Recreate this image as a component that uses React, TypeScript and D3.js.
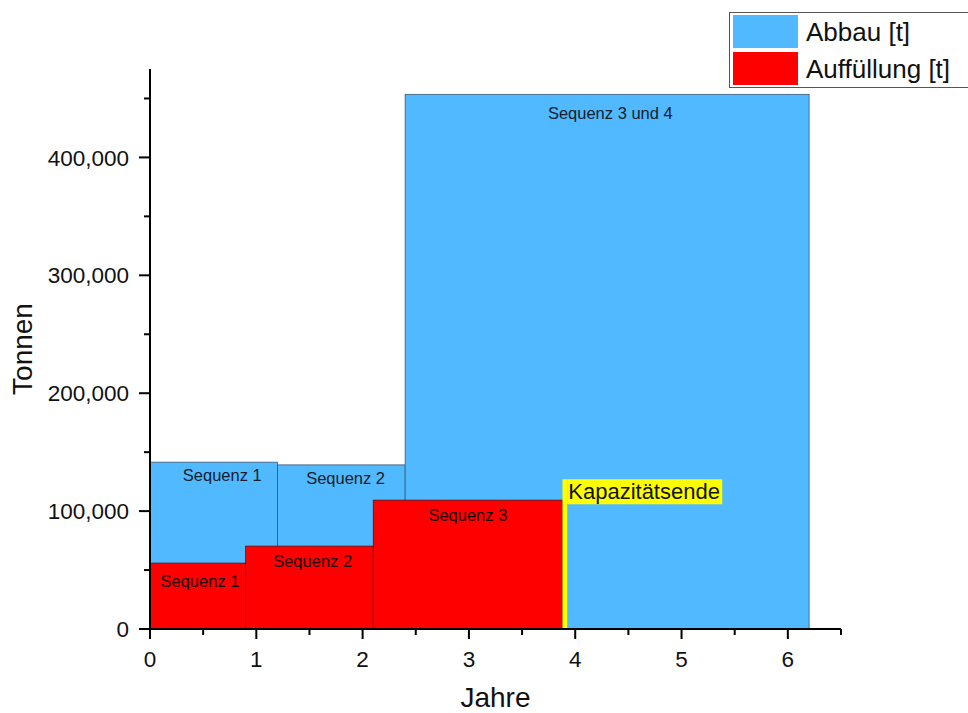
import React from "react";
import * as d3 from "d3";

// Abbau (mining) blocks
const abbauStart = [0, 1.2, 2.4];
const abbauEnd = [1.2, 2.4, 6.2];
const abbauTons = [141500, 139200, 453500];
const abbauLabels = ["Sequenz 1", "Sequenz 2", "Sequenz 3 und 4"];
const abbauLabelX = [0.68, 1.84, 4.33];

// Auffüllung (backfill) blocks
const fillStart = [0, 0.9, 2.1];
const fillEnd = [0.9, 2.1, 3.88];
const fillTons = [55900, 70300, 109300];
const fillLabels = ["Sequenz 1", "Sequenz 2", "Sequenz 3"];
const fillLabelX = [0.47, 1.53, 2.99];

// Capacity end marker
const capStart = 3.88;
const capEnd = 3.925;
const capTons = 127000;
const capLabel = "Kapazitätsende";

const xTicks = [0, 1, 2, 3, 4, 5, 6];
const xMinor = [0.5, 1.5, 2.5, 3.5, 4.5, 5.5, 6.5];
const yTicks = [0, 100000, 200000, 300000, 400000];
const yMinor = [50000, 150000, 250000, 350000, 450000];

const legendNames = ["Abbau [t]", "Auffüllung [t]"];

const BLUE = "#50B9FF";
const RED = "#FF0000";
const YELLOW = "#FFFF00";
const FONT = "'Liberation Sans', Arial, sans-serif";

export default function App() {
  const W = 968;
  const H = 713;
  const x = d3.scaleLinear().domain([0, 6.5]).range([150, 841]);
  const y = d3.scaleLinear().domain([0, 475000]).range([629, 69]);
  const fmt = d3.format(",");

  const abbau = abbauStart.map((s, i) => ({
    s, e: abbauEnd[i], v: abbauTons[i], label: abbauLabels[i], lx: abbauLabelX[i],
  }));
  const fill = fillStart.map((s, i) => ({
    s, e: fillEnd[i], v: fillTons[i], label: fillLabels[i], lx: fillLabelX[i],
  }));

  return (
    <svg
      width={W}
      height={H}
      style={{ position: "absolute", left: 0, top: 0, background: "#fff" }}
      fontFamily={FONT}
    >
      {/* Abbau bars */}
      {abbau.map((d, i) => (
        <rect
          key={"a" + i}
          x={x(d.s)}
          y={y(d.v)}
          width={x(d.e) - x(d.s)}
          height={y(0) - y(d.v)}
          fill={BLUE}
          stroke="#3c5872"
          strokeWidth={0.8}
        />
      ))}
      {/* Fill bars */}
      {fill.map((d, i) => (
        <rect
          key={"f" + i}
          x={x(d.s)}
          y={y(d.v)}
          width={x(d.e) - x(d.s)}
          height={y(0) - y(d.v)}
          fill={RED}
          stroke="#5a1010"
          strokeWidth={0.8}
        />
      ))}
      {/* Capacity marker */}
      <rect
        x={x(capStart)}
        y={y(capTons)}
        width={x(capEnd) - x(capStart)}
        height={y(0) - y(capTons)}
        fill={YELLOW}
      />
      <rect x={x(capEnd)} y={y(capTons)} width={155} height={25} fill={YELLOW} />
      <text x={x(capEnd) + 1} y={y(capTons) + 20} fontSize={22} fill="#111">
        {capLabel}
      </text>

      {/* Bar labels */}
      {abbau.map((d, i) => (
        <text
          key={"al" + i}
          x={x(d.lx)}
          y={y(d.v) + (i === 2 ? 25 : 19)}
          fontSize={16.5}
          textAnchor="middle"
          fill="#15202b"
        >
          {d.label}
        </text>
      ))}
      {fill.map((d, i) => (
        <text
          key={"fl" + i}
          x={x(d.lx)}
          y={y(d.v) + (i === 0 ? 24 : 21)}
          fontSize={16.5}
          textAnchor="middle"
          fill="#1a0000"
        >
          {d.label}
        </text>
      ))}

      {/* Y axis */}
      <line x1={x(0)} x2={x(0)} y1={y(475000)} y2={y(0) + 1} stroke="#000" strokeWidth={2} />
      {yTicks.map((t) => (
        <g key={"yt" + t}>
          <line x1={x(0) - 11} x2={x(0)} y1={y(t)} y2={y(t)} stroke="#000" strokeWidth={2} />
          <text
            x={x(0) - 21}
            y={y(t)}
            dy="0.36em"
            textAnchor="end"
            fontSize={22.5}
            fill="#111"
          >
            {fmt(t)}
          </text>
        </g>
      ))}
      {yMinor.map((t) => (
        <line key={"ym" + t} x1={x(0) - 6} x2={x(0)} y1={y(t)} y2={y(t)} stroke="#000" strokeWidth={2} />
      ))}

      {/* X axis */}
      <line x1={x(0) - 3} x2={x(6.5)} y1={y(0)} y2={y(0)} stroke="#000" strokeWidth={2} />
      {xTicks.map((t) => (
        <g key={"xt" + t}>
          <line x1={x(t)} x2={x(t)} y1={y(0)} y2={y(0) + 10} stroke="#000" strokeWidth={2} />
          <text x={x(t)} y={y(0) + 38} textAnchor="middle" fontSize={22.5} fill="#111">
            {t}
          </text>
        </g>
      ))}
      {xMinor.map((t) => (
        <line key={"xm" + t} x1={x(t)} x2={x(t)} y1={y(0)} y2={y(0) + 6} stroke="#000" strokeWidth={2} />
      ))}

      {/* Axis titles */}
      <text x={(x(0) + x(6.5)) / 2} y={707} textAnchor="middle" fontSize={28} fill="#111">
        Jahre
      </text>
      <text
        transform={`translate(32, ${(y(0) + y(475000)) / 2}) rotate(-90)`}
        textAnchor="middle"
        fontSize={28}
        fill="#111"
      >
        Tonnen
      </text>

      {/* Legend */}
      <rect x={729.5} y={12.5} width={260} height={75} fill="#fff" stroke="#555" strokeWidth={1} />
      {legendNames.map((n, i) => (
        <g key={"lg" + i}>
          <rect x={733} y={15 + i * 37} width={65} height={33} fill={i === 0 ? BLUE : RED} />
          <text x={806} y={41 + i * 37} fontSize={26} fill="#111">
            {n}
          </text>
        </g>
      ))}
    </svg>
  );
}
